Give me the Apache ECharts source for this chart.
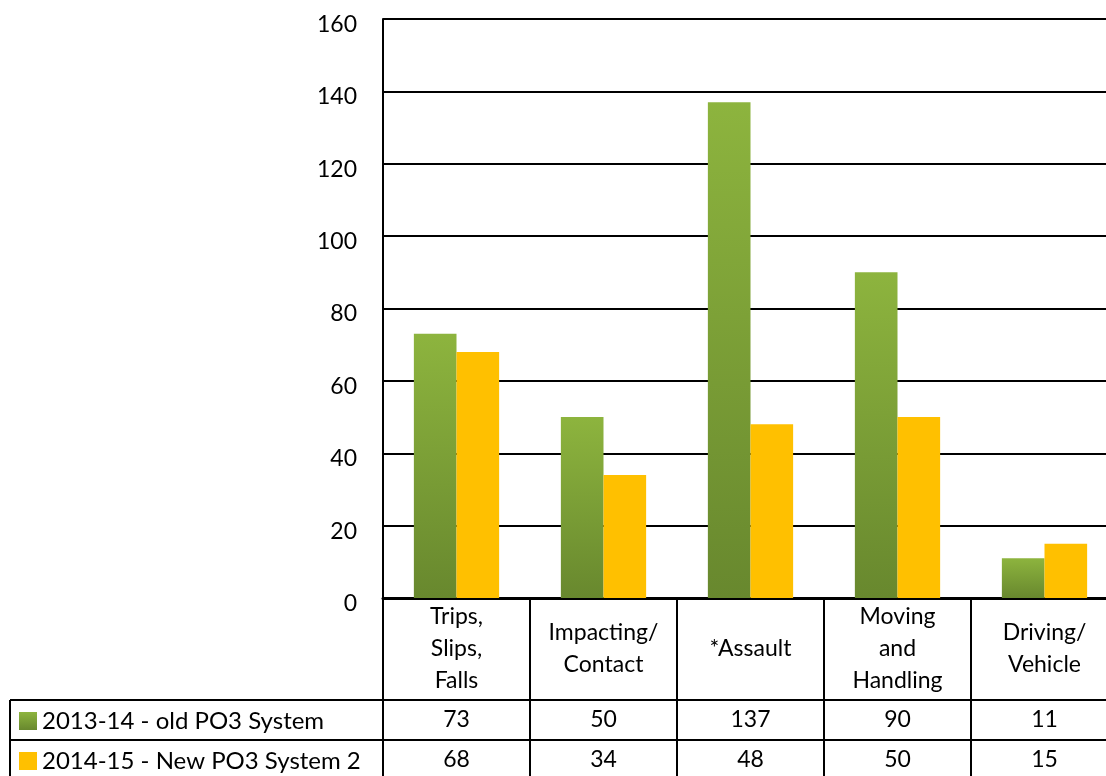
<!DOCTYPE html>
<html>
<head>
<meta charset="utf-8">
<style>
  html, body { margin: 0; padding: 0; background: #fff; overflow: hidden; }
  #chart { width: 1118px; height: 776px; }
</style>
<script src="https://cdn.jsdelivr.net/npm/echarts@6/dist/echarts.min.js"></script>
</head>
<body>
<div id="chart"></div>
<script>
const categories = ['Trips,\nSlips,\nFalls', 'Impacting/\nContact', '*Assault', 'Moving\nand\nHandling', 'Driving/\nVehicle'];
const seriesNames = ['2013-14 - old PO3 System', '2014-15 - New PO3 System 2'];
const oldSystem = [73, 50, 137, 90, 11];
const newSystem = [68, 34, 48, 50, 15];

// layout (the plot runs a little past the right edge of the window, like the original)
const gridLeft = 383, gridTop = 19, gridWidth = 735, gridHeight = 579;
const axisY = gridTop + gridHeight;
const catWidth = gridWidth / categories.length;
const row1 = 700, row2 = 740, tableBottom = 776, tableLeft = 10, tableRight = 1118;
const font = 'Lato';

var chart = echarts.init(document.getElementById('chart'), null, { renderer: 'canvas' });

function line(x1, y1, x2, y2) {
    return {
        type: 'line',
        shape: { x1: x1, y1: y1, x2: x2, y2: y2 },
        style: { stroke: '#000', lineWidth: 2 },
        z: 10
    };
}

var tableLines = [
    line(tableLeft, row1, tableRight, row1),
    line(tableLeft, row2, tableRight, row2),
    line(tableLeft, row1, tableLeft, tableBottom)
];
for (var i = 0; i < categories.length; i++) {
    var x = gridLeft + i * catWidth;
    tableLines.push(line(x, axisY, x, tableBottom));
}

function rowAxis(values, margin) {
    return {
        type: 'category',
        position: 'bottom',
        data: categories,
        axisLine: { show: false },
        axisTick: { show: false },
        splitLine: { show: false },
        axisLabel: {
            interval: 0,
            margin: margin,
            verticalAlign: 'middle',
            fontFamily: font,
            fontSize: 23,
            color: '#000',
            formatter: function (v, idx) { return String(values[idx]); }
        }
    };
}

function legendRow(name, top) {
    return {
        orient: 'vertical',
        left: 19,
        top: top,
        padding: 0,
        itemWidth: 18,
        itemHeight: 18,
        icon: 'rect',
        textStyle: { fontFamily: font, fontSize: 24, color: '#000' },
        data: [name]
    };
}

var option = {
    animation: false,
    textStyle: { fontFamily: font, color: '#000' },
    grid: { left: gridLeft, top: gridTop, width: gridWidth, height: gridHeight, containLabel: false },
    legend: [
        legendRow(seriesNames[0], row1 + 9),
        legendRow(seriesNames[1], row2 + 9)
    ],
    xAxis: [
        {
            type: 'category',
            data: categories,
            axisLine: { show: true, lineStyle: { color: '#000', width: 3 } },
            axisTick: { show: false },
            splitLine: { show: false },
            axisLabel: {
                interval: 0,
                margin: 51,
                verticalAlign: 'middle',
                fontFamily: font,
                fontSize: 23,
                lineHeight: 32,
                color: '#000'
            }
        },
        rowAxis(oldSystem, 122),
        rowAxis(newSystem, 162)
    ],
    yAxis: {
        type: 'value',
        min: 0,
        max: 160,
        interval: 20,
        axisLine: { show: true, lineStyle: { color: '#000', width: 2 } },
        axisTick: { show: false },
        splitLine: { show: true, lineStyle: { color: '#000', width: 2 } },
        axisLabel: {
            margin: 26,
            verticalAlign: 'middle',
            formatter: function (v) { return '{n|' + v + '}'; },
            rich: {
                n: { fontFamily: font, fontSize: 23, color: '#000', padding: [11, 0, 0, 0] }
            }
        }
    },
    series: [
        {
            name: seriesNames[0],
            type: 'bar',
            barGap: '0%',
            barCategoryGap: '42%',
            itemStyle: {
                color: new echarts.graphic.LinearGradient(0, 0, 0, 1, [
                    { offset: 0, color: '#8DB43E' },
                    { offset: 1, color: '#68882E' }
                ])
            },
            data: oldSystem
        },
        {
            name: seriesNames[1],
            type: 'bar',
            itemStyle: { color: '#FFC000' },
            data: newSystem
        }
    ],
    graphic: tableLines
};

chart.setOption(option);
window.addEventListener('resize', chart.resize);
</script>
</body>
</html>
